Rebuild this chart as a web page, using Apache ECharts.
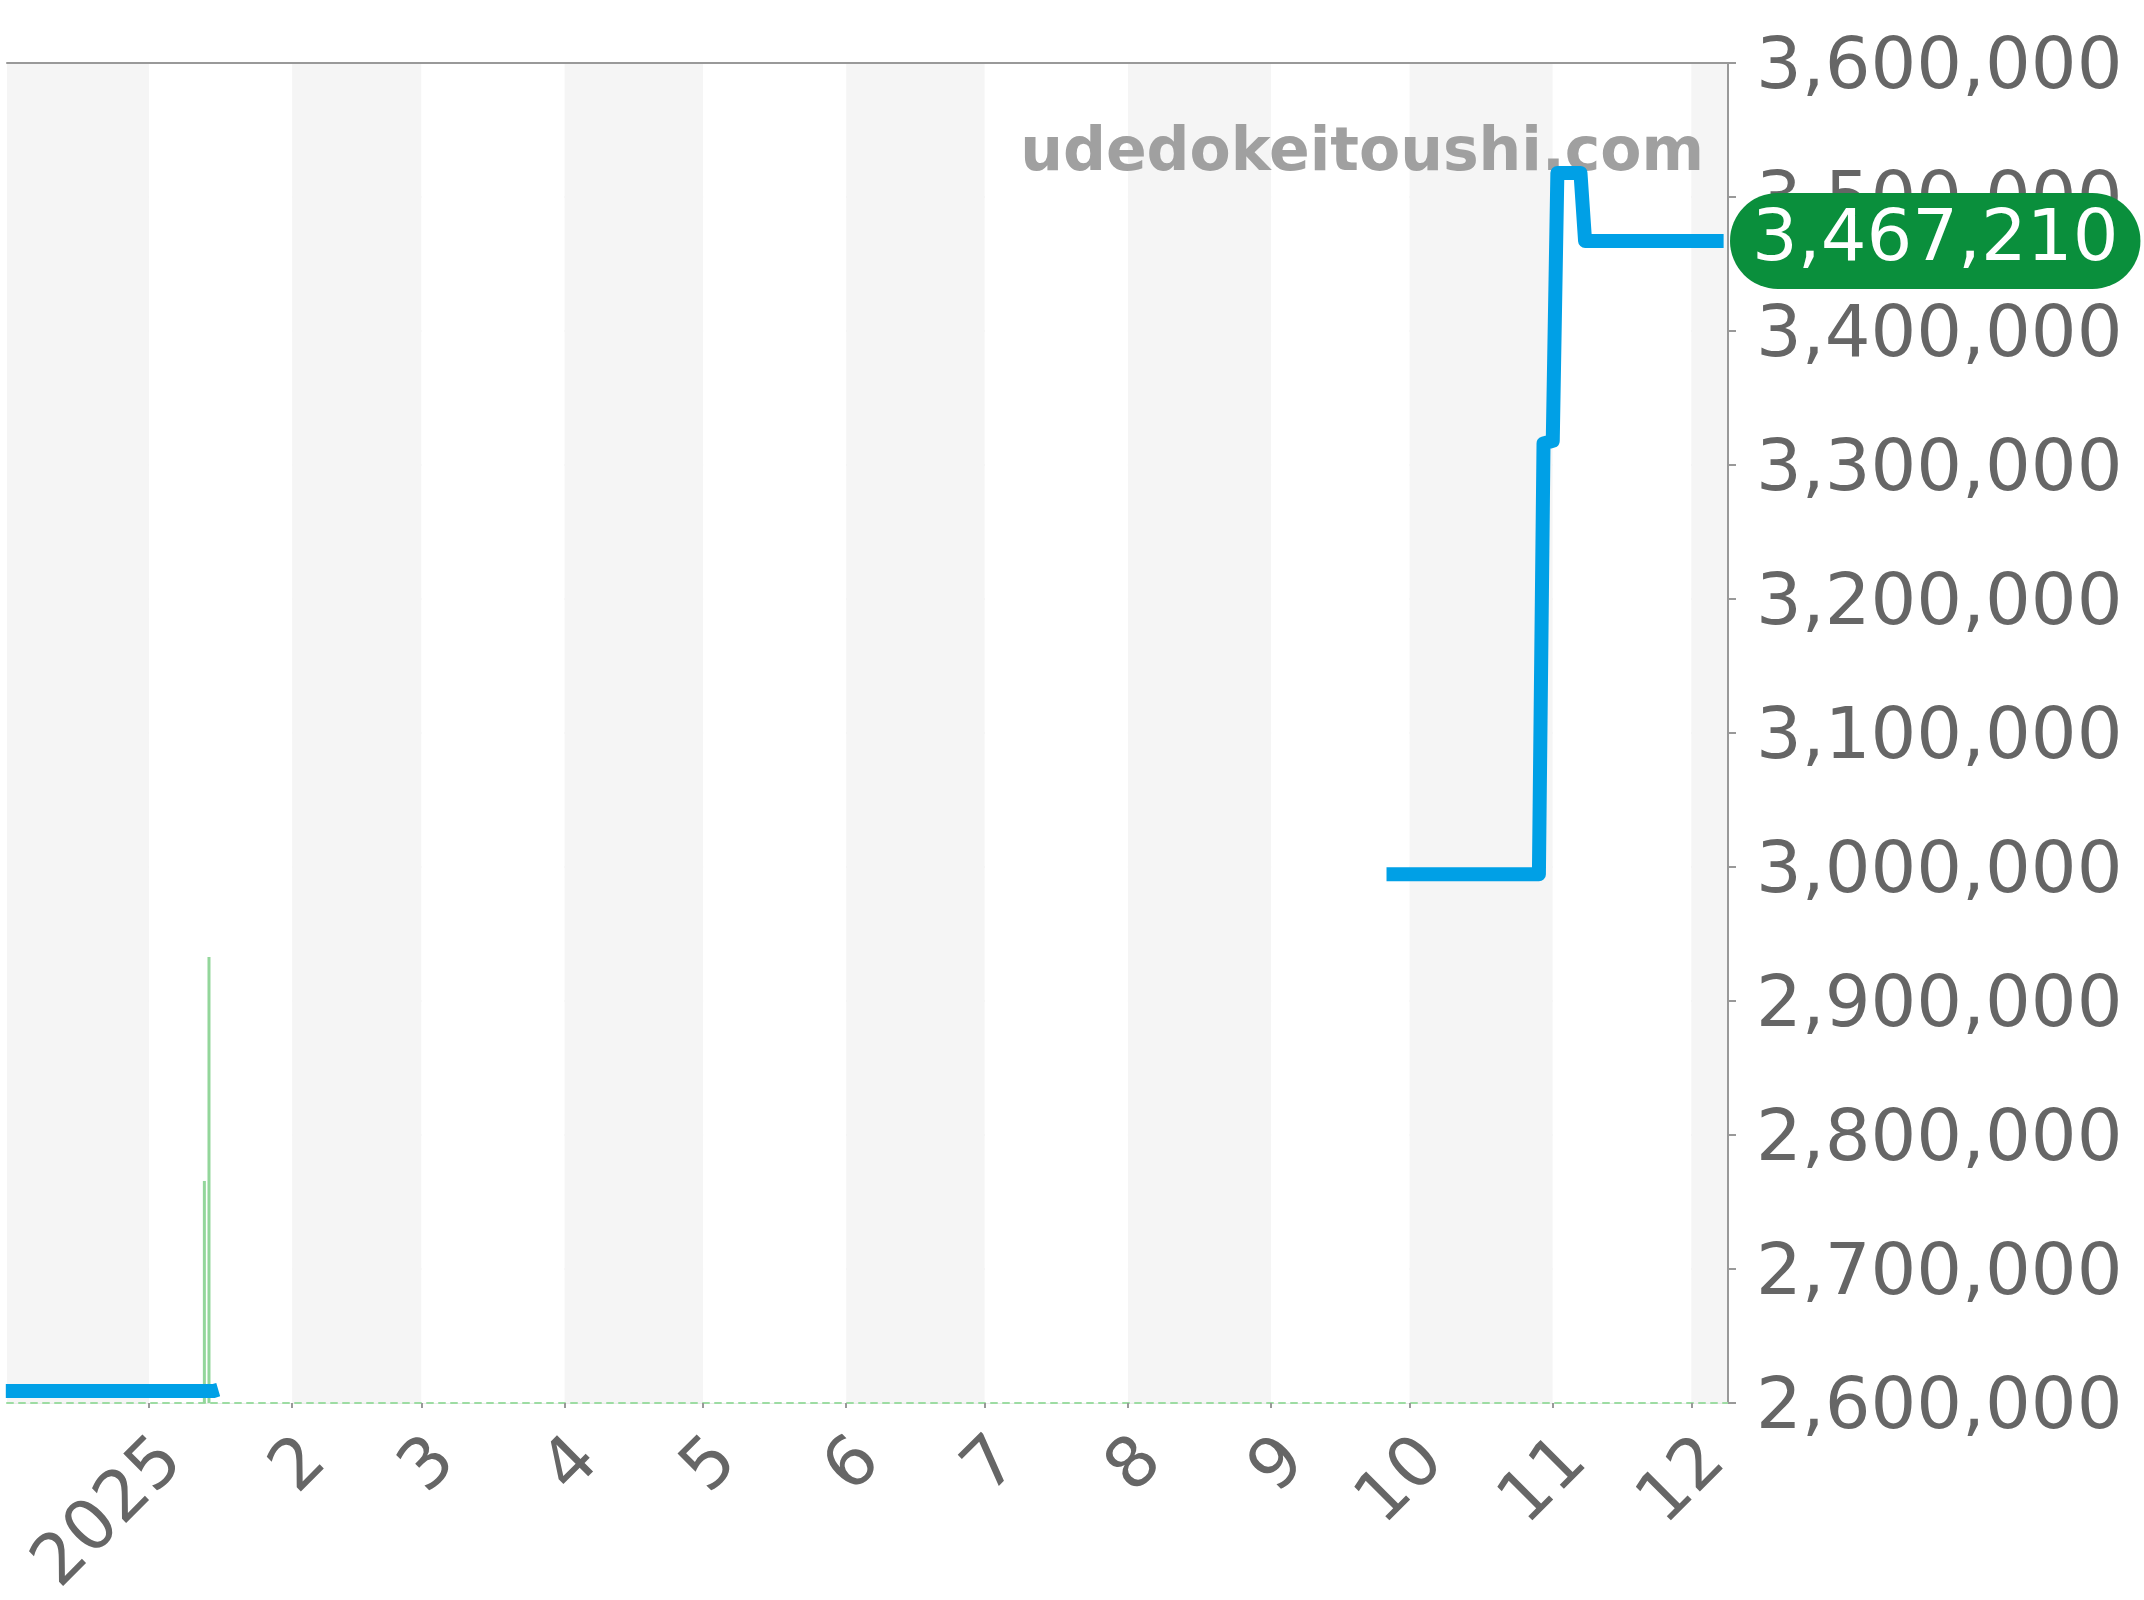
<!DOCTYPE html>
<html>
<head>
<meta charset="utf-8">
<script src="https://cdn.jsdelivr.net/npm/echarts@6/dist/echarts.min.js"></script>
<style>
  html, body { margin: 0; padding: 0; background: #fff; }
  #chart { width: 2144px; height: 1600px; }
</style>
</head>
<body>
<div id="chart"></div>
<script>
// price line (null = gap with no data)
var lineDates = ['2024-12-01', '2025-01-15', '2025-01-16', '2025-05-01',
  '2025-09-26', '2025-10-29', '2025-10-30', '2025-11-01', '2025-11-02',
  '2025-11-07', '2025-11-08', '2025-12-08'];
var lineValues = [2609000, 2609000, 2610000, null,
  2994500, 2994500, 3316000, 3318000, 3518000,
  3518000, 3467210, 3467210];

// thin green bars
var barDates = ['2025-01-13', '2025-01-14'];
var barValues = [2765700, 2932800];

var yTicks = [2600000, 3600000, 100000]; // min, max, step
var xRange = ['2024-12-01 14:00', '2025-12-08 15:00'];

function comma(v) {
  return String(v).replace(/\B(?=(\d{3})+(?!\d))/g, ',');
}

var lineData = lineDates.map(function (d, i) { return [d, lineValues[i]]; });
var barData = barDates.map(function (d, i) { return [d, barValues[i]]; });
var lastVal = lineValues[lineValues.length - 1];

var chart = echarts.init(document.getElementById('chart'));
chart.setOption({
  animation: false,
  backgroundColor: '#fff',
  textStyle: { fontFamily: 'DejaVu Sans' },
  grid: { left: 7, right: 416, top: 63, bottom: 197, outerBoundsMode: 'none' },
  graphic: {
    z: 1,
    elements: [{
      type: 'text',
      z: 1,
      style: {
        x: 1704, y: 154,
        text: 'udedokeitoushi.com',
        textAlign: 'right',
        textVerticalAlign: 'middle',
        fontSize: 60,
        fontWeight: 'bold',
        fontFamily: 'DejaVu Sans',
        fill: '#a0a0a0'
      }
    }]
  },
  xAxis: [{
    type: 'time',
    min: xRange[0],
    max: xRange[1],
    minInterval: 28 * 86400000,
    maxInterval: 31 * 86400000,
    axisLine: { lineStyle: { color: '#9ddca3', width: 2, type: [6, 6] } },
    axisTick: { lineStyle: { color: '#999', width: 2 }, length: 5 },
    axisLabel: {
      rotate: 45,
      fontSize: 70,
      color: '#666',
      margin: 24,
      padding: [67, 0, 0, 0],
      hideOverlap: false,
      formatter: function (v) {
        var d = new Date(v);
        if (d.getDate() !== 1 || d.getHours() !== 0) return '';
        return d.getMonth() === 0 ? String(d.getFullYear()) : String(d.getMonth() + 1);
      }
    },
    splitLine: { show: false },
    splitArea: { show: true, areaStyle: { color: ['#f5f5f5', '#ffffff'] } }
  }, {
    type: 'time',
    position: 'top',
    min: xRange[0],
    max: xRange[1],
    axisLine: { lineStyle: { color: '#999', width: 2 } },
    axisTick: { show: false },
    axisLabel: { show: false },
    splitLine: { show: false }
  }],
  yAxis: {
    type: 'value',
    position: 'right',
    min: yTicks[0],
    max: yTicks[1],
    interval: yTicks[2],
    axisLine: { show: true, lineStyle: { color: '#999', width: 2 } },
    axisTick: { show: true, length: 8, lineStyle: { color: '#999', width: 2 } },
    axisLabel: {
      fontSize: 72,
      color: '#666',
      margin: 28,
      formatter: function (v) { return '{v|' + comma(v) + '}'; },
      rich: { v: { fontSize: 72, color: '#666', padding: [12, 0, 0, 0] } }
    },
    splitLine: { lineStyle: { color: '#e6e6e6', width: 1.5 } }
  },
  series: [{
    type: 'bar',
    data: barData,
    barWidth: 3,
    itemStyle: { color: '#93d69b' },
    z: 2
  }, {
    type: 'line',
    data: lineData,
    showSymbol: false,
    connectNulls: false,
    lineStyle: { color: '#00a0e6', width: 14, join: 'round', cap: 'butt' },
    z: 3,
    markLine: {
      silent: true,
      symbol: ['none', 'none'],
      lineStyle: { color: 'rgba(0,0,0,0)', width: 0 },
      data: [{ yAxis: lastVal }],
      label: {
        show: true,
        position: 'end',
        distance: 2,
        formatter: function () { return comma(lastVal); },
        color: '#fff',
        fontSize: 72,
        backgroundColor: '#0a8f3c',
        borderRadius: 48,
        padding: [12, 22, 12, 22]
      }
    }
  }]
});
</script>
</body>
</html>
